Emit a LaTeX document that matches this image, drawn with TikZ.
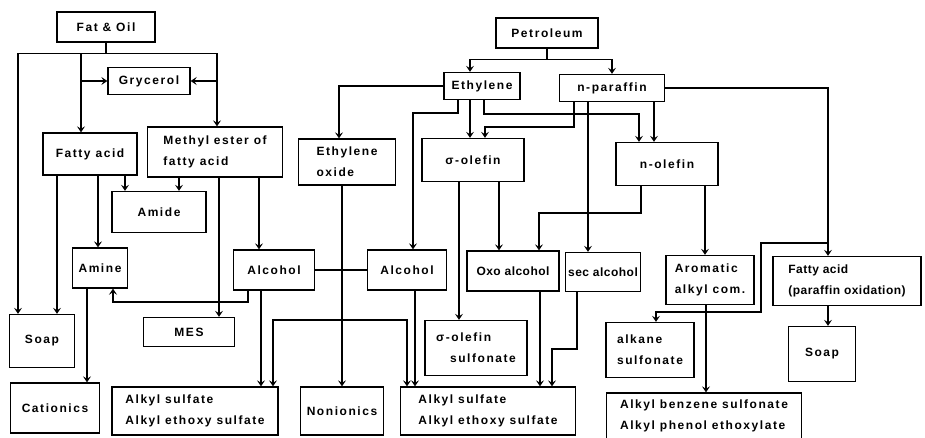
\documentclass[tikz,border=0pt]{standalone}
\usepackage{fontspec}
\setmainfont{Liberation Sans}[LetterSpace=13]
\usetikzlibrary{arrows.meta}

\begin{document}
\begin{tikzpicture}[
  x=1pt, y=-1pt,
  >={Stealth[length=6pt, width=8pt, inset=2.5pt]},
  box/.style 2 args={
    draw, line width=1.4pt, minimum width=#1, minimum height=#2,
    inner sep=2pt, align=center,
    font=\fontsize{12}{21}\selectfont\bfseries
  },
  tight/.style={font=\fontsize{12}{21}\selectfont\bfseries\addfontfeatures{LetterSpace=4}},
  arr/.style={->, line width=1.2pt},
  link/.style={line width=1.2pt},
]

% Frame
\useasboundingbox (0,0) rectangle (925,437);

% Fat & Oil side
\node[box={98pt}{30pt}] (fatoil) at (106,27) {Fat \& Oil};
\node[box={82pt}{27pt}] (grycerol) at (149,81) {Grycerol};
\node[box={94pt}{42pt}] (fatty) at (90,154) {Fatty acid};
\node[box={135pt}{50pt}, align=left] (methyl) at (215,152)
  {Methyl ester of\\fatty acid};
\node[box={94pt}{41pt}] (amide) at (159,212) {Amide};
\node[box={55pt}{40pt}] (amine) at (100,268) {Amine};
\node[box={81pt}{40pt}] (alcL) at (274,270) {Alcohol};
\node[box={65pt}{53pt}] (soapL) at (42,341) {Soap};
\node[box={91pt}{29pt}] (mes) at (189,332) {MES};
\node[box={89pt}{50pt}] (cation) at (55,408) {Cationics};
\node[box={166pt}{48pt}, align=left] (asL) at (195,411)
  {Alkyl sulfate\\Alkyl ethoxy sulfate};

% Petroleum side
\node[box={102pt}{30pt}] (petrol) at (547,33) {Petroleum};
\node[box={76pt}{27pt}] (ethylene) at (482,86) {Ethylene};
\node[box={105pt}{27pt}] (nparaf) at (612,88) {n-paraffin};
\node[box={97pt}{46pt}, align=left] (etox) at (347,162)
  {Ethylene\\oxide};
\node[box={102pt}{43pt}] (solefin) at (473,160) {σ-olefin};
\node[box={102pt}{43pt}] (nolefin) at (667,164) {n-olefin};
\node[box={79pt}{40pt}] (alcR) at (407,270) {Alcohol};
\node[box={92pt}{40pt}, tight] (oxo) at (513,271) {Oxo alcohol};
\node[box={75pt}{39pt}, tight] (secalc) at (603,272) {sec alcohol};
\node[box={88pt}{49pt}, align=left] (arom) at (710,280)
  {Aromatic\\alkyl com.};
\node[box={148pt}{49pt}, align=left, tight] (fapar) at (847,281)
  {Fatty acid\\(paraffin oxidation)};
\node[box={102pt}{55pt}, align=left] (sosulf) at (476,348)
  {σ-olefin\\\hspace{14pt}sulfonate};
\node[box={88pt}{55pt}, align=left] (alksulf) at (650,350)
  {alkane\\sulfonate};
\node[box={67pt}{55pt}] (soapR) at (822,354) {Soap};
\node[box={83pt}{48pt}] (nonion) at (342,411) {Nonionics};
\node[box={175pt}{48pt}, align=left] (asR) at (488,411)
  {Alkyl sulfate\\Alkyl ethoxy sulfate};
\node[box={195pt}{46pt}, align=left] (abs) at (704,416)
  {Alkyl benzene sulfonate\\Alkyl phenol ethoxylate};

% Fat & Oil branches
\draw[arr] (fatoil.south) -- ++(0,11) -| (soapL.north -| 18,0);
\draw[arr] (fatoil.south) -- ++(0,11) -| (fatty.north -| 81,0);
\draw[arr] (fatoil.south) -- ++(0,11) -| (methyl.north -| 217,0);
\draw[arr] (grycerol.west -| 81,0) -- (grycerol.west);
\draw[arr] (grycerol.east -| 217,0) -- (grycerol.east);

% Fatty acid / methyl ester
\draw[arr] (fatty.south -| 57,0) -- (soapL.north -| 57,0);
\draw[arr] (fatty.south -| 98,0) -- (amine.north -| 98,0);
\draw[arr] (fatty.south -| 125,0) -- (amide.north -| 125,0);
\draw[arr] (methyl.south -| 179,0) -- (amide.north -| 179,0);
\draw[arr] (methyl.south -| 219,0) -- (mes.north -| 219,0);
\draw[arr] (methyl.south -| 259,0) -- (alcL.north -| 259,0);
\draw[arr] (amine.south -| 87,0) -- (cation.north -| 87,0);

% Alcohols
\draw[arr] (alcL.south -| 248,0) -- (248,302) -| (amine.south -| 113,0);
\draw[arr] (alcL.south -| 261,0) -- (asL.north -| 261,0);
\draw[link] (alcL.east) -- (alcR.west);
\draw[arr] (alcR.south -| 415,0) -- (asR.north -| 415,0);

% Ethylene oxide
\coordinate (eojoin) at (342,320);
\draw[arr] (etox.south -| 342,0) -- (nonion.north -| 342,0);
\draw[arr] (eojoin) -| (asL.north -| 273,0);
\draw[arr] (eojoin) -| (asR.north -| 407,0);

% Petroleum
\draw[arr] (petrol.south) -- ++(0,11) -| (ethylene.north -| 470,0);
\draw[arr] (petrol.south) -- ++(0,11) -| (nparaf.north);

% Ethylene
\draw[arr] (ethylene.west) -| (etox.north -| 339,0);
\draw[arr] (ethylene.south -| 458,0) -- (458,113) -| (alcR.north -| 413,0);
\draw[arr] (ethylene.south -| 470,0) -- (solefin.north -| 470,0);
\draw[arr] (ethylene.south -| 484,0) -- (484,114) -| (nolefin.north -| 639,0);

% n-paraffin
\draw[arr] (nparaf.south -| 574,0) -- (574,127) -| (solefin.north -| 485,0);
\draw[arr] (nparaf.south -| 588,0) -- (secalc.north -| 588,0);
\draw[arr] (nparaf.south -| 654,0) -- (nolefin.north -| 654,0);
\draw[arr] (nparaf.east) -| (fapar.north -| 828,0);
\draw[arr] (828,243) -- (761,243) -- (761,312) -| (alksulf.north -| 656,0);

% Olefins
\draw[arr] (solefin.south -| 459,0) -- (sosulf.north -| 459,0);
\draw[arr] (solefin.south -| 499,0) -- (oxo.north -| 499,0);
\draw[arr] (nolefin.south -| 641,0) -- (641,213) -| (oxo.north -| 539,0);
\draw[arr] (nolefin.south -| 705,0) -- (arom.north -| 705,0);

% To products
\draw[arr] (oxo.south -| 540,0) -- (asR.north -| 540,0);
\draw[arr] (secalc.south -| 577,0) -- (577,349) -| (asR.north -| 552,0);
\draw[arr] (arom.south -| 706,0) -- (abs.north -| 706,0);
\draw[arr] (fapar.south -| 828,0) -- (soapR.north -| 828,0);

\end{tikzpicture}
\end{document}
